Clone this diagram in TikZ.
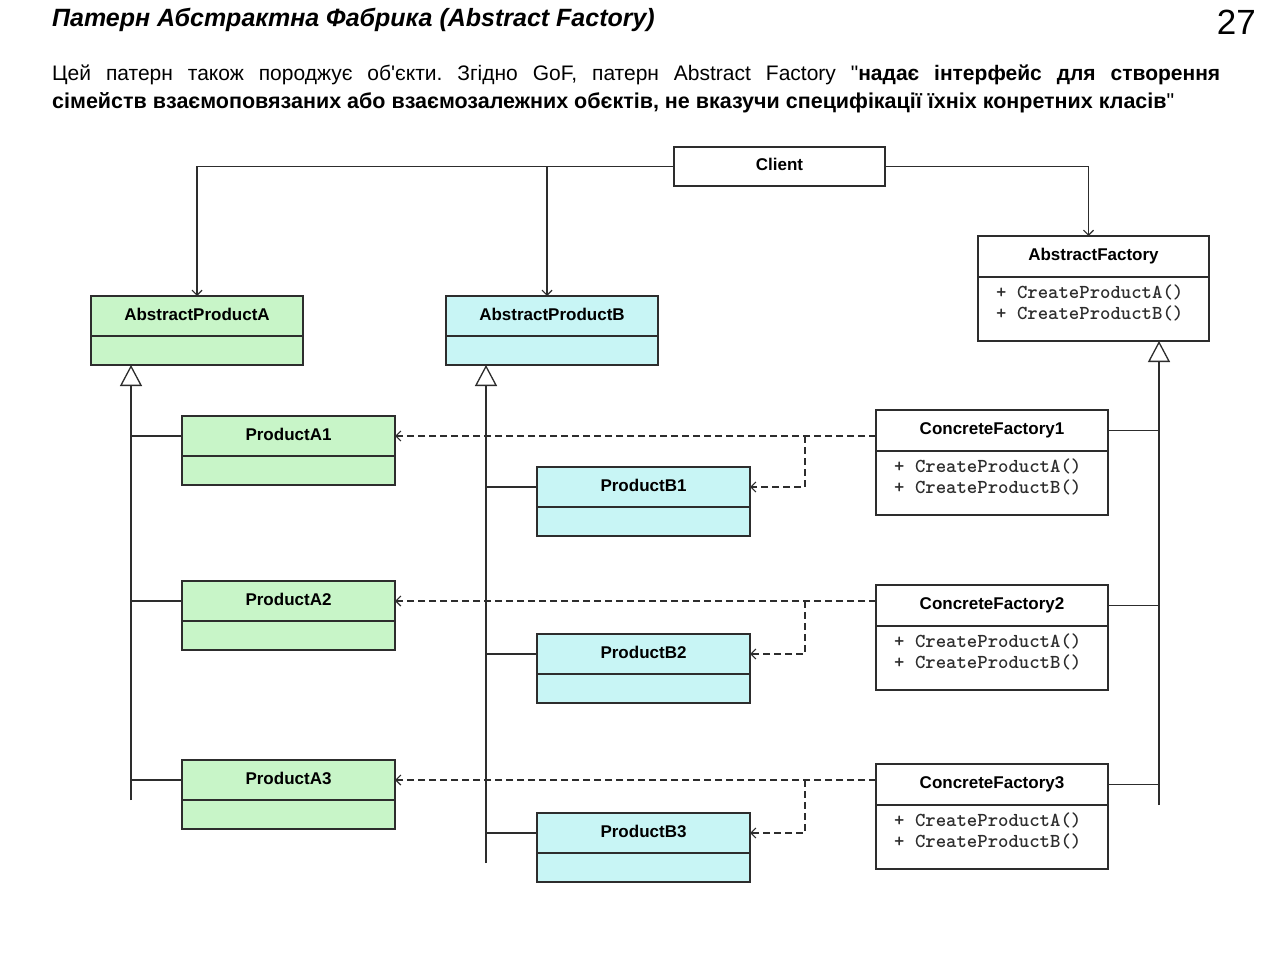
\documentclass[tikz,border=0pt]{standalone}
\usepackage{fontspec}
\setmainfont{Liberation Sans}
\usepackage{tikz}
\usetikzlibrary{arrows.meta, positioning}
\definecolor{prodgreen}{RGB}{200, 245, 200}
\definecolor{prodcyan}{RGB}{200, 245, 245}
\definecolor{umlline}{RGB}{45, 45, 45}
\frenchspacing

\tikzset{
	umlbox/.style={draw=umlline, line width=1.3pt, inner sep=0pt, outer sep=0pt},
	clname/.style={umlbox, anchor=north west, minimum height=40pt,
		text height=12pt, text depth=4pt, font=\fontsize{17}{20}\selectfont\bfseries},
	clbody/.style={umlbox, minimum height=29pt},
	prodA/.style={fill=prodgreen, minimum width=213pt},
	prodB/.style={fill=prodcyan, minimum width=213pt},
	factory/.style={fill=white, minimum width=232pt},
	ops/.style={anchor=north west, inner sep=0pt, align=left, text=umlline,
		font=\fontsize{19.8}{21}\selectfont\ttfamily\bfseries},
	link/.style={draw=umlline, line width=1.3pt},
	assoc/.style={link, line width=1.2pt, -{Straight Barb[length=5pt, width=10pt]}},
	dep/.style={assoc, dash pattern=on 7pt off 4pt},
	gen/.style={link, -{Triangle[open, length=21pt, width=22pt, fill=white]}}
}

\begin{document}
\begin{tikzpicture}[x=1pt, y=-1pt]
	\useasboundingbox[fill=white] (0,0) rectangle (1280,955);

	% heading and text
	\node[anchor=base west, inner sep=0pt, font=\fontsize{25}{30}\selectfont\bfseries\itshape] (title) at (52,27)
		{Патерн Абстрактна Фабрика (Abstract Factory)};
	\node[anchor=base east, inner sep=0pt, font=\fontsize{35}{42}\selectfont] (pagenum) at (1256,35) {27};
	\node[anchor=base west, inner sep=0pt, font=\fontsize{21}{28}\selectfont] (intro1) at (52,81)
		{\makebox[1168pt][s]{Цей патерн також породжує об\textquotesingle єкти. Згідно GoF, патерн Abstract Factory \textquotedbl\textbf{надає інтерфейс для створення}}};
	\node[anchor=base west, inner sep=0pt, font=\fontsize{21.5}{28}\selectfont] (intro2) at (52,109)
		{\textbf{сімейств взаємоповязаних або взаємозалежних обєктів, не вказучи специфікації їхніх конретних класів}\textquotedbl};

	% client and abstract classes
	\node[clname, minimum width=211pt, minimum height=39pt] (client) at (674,147) {Client};
	\node[clname, factory, minimum width=231pt, minimum height=41pt] (af) at (978,236) {AbstractFactory};
	\node[clbody, factory, minimum width=231pt, minimum height=64pt, below=0pt of af] (afb) {};
	\node[ops] (afops) at ([shift={(18,8)}]afb.north west) {+ CreateProductA()\\+ CreateProductB()};

	\node[clname, prodA, minimum width=212pt] (apa) at (91,296) {AbstractProductA};
	\node[clbody, prodA, minimum width=212pt, below=0pt of apa] (apab) {};
	\node[clname, prodB, minimum width=212pt] (apb) at (446,296) {AbstractProductB};
	\node[clbody, prodB, minimum width=212pt, below=0pt of apb] (apbb) {};

	% first family
	\node[clname, prodA] (pa1) at (182,416) {ProductA1};
	\node[clbody, prodA, below=0pt of pa1] (pa1b) {};
	\node[clname, prodB] (pb1) at (537,467) {ProductB1};
	\node[clbody, prodB, below=0pt of pb1] (pb1b) {};
	\node[clname, factory, minimum height=41pt] (cf1) at (876,410) {ConcreteFactory1};
	\node[clbody, factory, minimum height=64pt, below=0pt of cf1] (cf1b) {};
	\node[ops] (cf1ops) at ([shift={(18,8)}]cf1b.north west) {+ CreateProductA()\\+ CreateProductB()};

	% second family
	\node[clname, prodA] (pa2) at (182,581) {ProductA2};
	\node[clbody, prodA, below=0pt of pa2] (pa2b) {};
	\node[clname, prodB] (pb2) at (537,634) {ProductB2};
	\node[clbody, prodB, below=0pt of pb2] (pb2b) {};
	\node[clname, factory, minimum height=41pt] (cf2) at (876,585) {ConcreteFactory2};
	\node[clbody, factory, minimum height=64pt, below=0pt of cf2] (cf2b) {};
	\node[ops] (cf2ops) at ([shift={(18,8)}]cf2b.north west) {+ CreateProductA()\\+ CreateProductB()};

	% third family
	\node[clname, prodA] (pa3) at (182,760) {ProductA3};
	\node[clbody, prodA, below=0pt of pa3] (pa3b) {};
	\node[clname, prodB] (pb3) at (537,813) {ProductB3};
	\node[clbody, prodB, below=0pt of pb3] (pb3b) {};
	\node[clname, factory, minimum height=41pt] (cf3) at (876,764) {ConcreteFactory3};
	\node[clbody, factory, minimum height=64pt, below=0pt of cf3] (cf3b) {};
	\node[ops] (cf3ops) at ([shift={(18,8)}]cf3b.north west) {+ CreateProductA()\\+ CreateProductB()};

	% client uses
	\draw[assoc] (client.west) -| (apa.north);
	\draw[assoc] ([xshift=-5pt]apb.north |- client.west) -- ([xshift=-5pt]apb.north);
	\draw[assoc] (client.east) -| ([xshift=-5pt]af.north);

	% inheritance
	\coordinate (ga) at ([xshift=40pt]apab.south west);
	\coordinate (gb) at ([xshift=40pt]apbb.south west);
	\coordinate (gf) at ([xshift=-50pt]afb.south east);
	\draw[gen] (ga |- pa3.south) -- (ga);
	\draw[gen] ([yshift=-10pt]pb3b.north -| gb) -- (gb);
	\draw[gen] (gf |- cf3.south) -- (gf);
	\draw[link] (pa1.west -| ga) -- (pa1.west);
	\draw[link] (pa2.west -| ga) -- (pa2.west);
	\draw[link] (pa3.west -| ga) -- (pa3.west);
	\draw[link] (pb1.west -| gb) -- (pb1.west);
	\draw[link] (pb2.west -| gb) -- (pb2.west);
	\draw[link] (pb3.west -| gb) -- (pb3.west);
	\draw[link] (cf1.east) -- (cf1.east -| gf);
	\draw[link] (cf2.east) -- (cf2.east -| gf);
	\draw[link] (cf3.east) -- (cf3.east -| gf);

	% creates
	\draw[dep] (cf1.west |- pa1.east) -- (pa1.east);
	\draw[dep] ([xshift=-71pt]cf1.west |- pa1.east) |- (pb1.east);
	\draw[dep] (cf2.west |- pa2.east) -- (pa2.east);
	\draw[dep] ([xshift=-71pt]cf2.west |- pa2.east) |- (pb2.east);
	\draw[dep] (cf3.west |- pa3.east) -- (pa3.east);
	\draw[dep] ([xshift=-71pt]cf3.west |- pa3.east) |- (pb3.east);
\end{tikzpicture}
\end{document}
